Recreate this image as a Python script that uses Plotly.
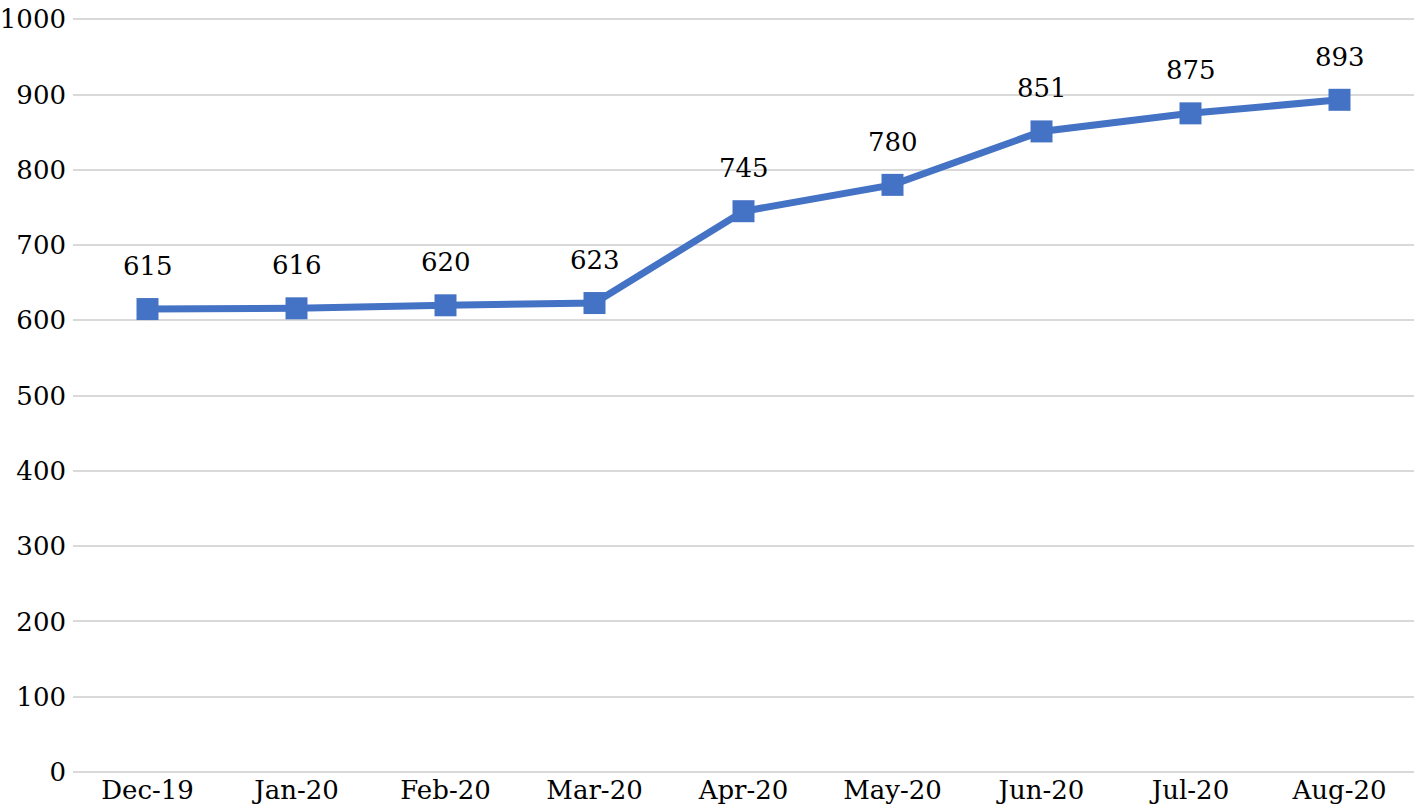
import plotly.graph_objects as go

months = ["Dec-19", "Jan-20", "Feb-20", "Mar-20", "Apr-20", "May-20", "Jun-20", "Jul-20", "Aug-20"]
values = [615, 616, 620, 623, 745, 780, 851, 875, 893]
y_ticks = [0, 100, 200, 300, 400, 500, 600, 700, 800, 900, 1000]

FONT = "DejaVu Serif"
FS = 26

fig = go.Figure()
fig.add_trace(go.Scatter(
    x=months, y=values,
    mode="lines+markers",
    line=dict(color="#4472C4", width=7),
    marker=dict(symbol="square", size=22, color="#4472C4"),
    cliponaxis=False,
))

for m, v in zip(months, values):
    fig.add_annotation(
        x=m, y=v, text=str(v), showarrow=False,
        yshift=43, font=dict(family=FONT, size=FS, color="black"),
    )

fig.update_layout(
    width=1416, height=812,
    margin=dict(l=73, r=2, t=17, b=40),
    paper_bgcolor="white", plot_bgcolor="white",
    showlegend=False,
    font=dict(family=FONT, size=FS, color="black"),
)
fig.update_xaxes(
    type="category", range=[-0.5, 8.5], automargin=False,
    showgrid=False, showline=False, ticks="",
    tickfont=dict(family=FONT, size=FS, color="black"),
)
fig.update_yaxes(
    range=[0, 1003], tickvals=y_ticks, automargin=False,
    showgrid=True, gridcolor="#d9d9d9", gridwidth=2,
    zeroline=True, zerolinecolor="#d9d9d9", zerolinewidth=2,
    showline=False, ticks="", ticklabelstandoff=6,
    tickfont=dict(family=FONT, size=FS, color="black"),
)

fig.write_html(
    "out.html",
    config={"displayModeBar": False},
    post_script="document.body.style.margin='0';document.body.style.overflow='hidden';",
)
